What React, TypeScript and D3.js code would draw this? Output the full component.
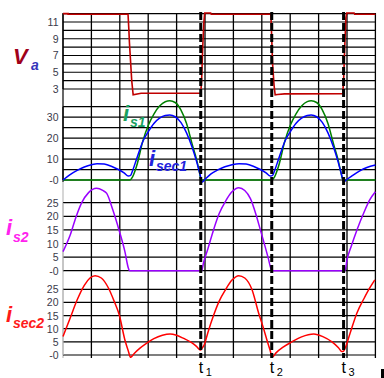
import React from "react";
import * as d3 from "d3";

type P = [number, number];

// time in grid divisions (0..11)
const vaData: P[] = [[0,12],[0.18,12],[0.18,11.92],[2.29,11.92],[2.32,10],[2.34,8.5],[2.37,6.8],[2.42,4],[2.47,2.3],[2.75,2.5],[4.85,2.5],[4.88,4],[4.92,8],[4.96,11],[4.99,12.08],[5.2,12.08],[5.22,11.92],[7.32,11.92],[7.34,10],[7.38,6],[7.43,3.5],[7.47,2.3],[7.55,2.35],[7.8,2.42],[9.85,2.45],[9.88,4],[9.92,8],[9.96,11.5],[9.99,12.08],[10.25,12.08],[10.27,11.92],[11,11.92]];

const is1Data: P[] = [[0,0],[2.35,0],[2.45,1.5],[2.6,7],[2.8,18],[3.0,26],[3.2,31.5],[3.4,35.3],[3.6,37.4],[3.76,37.8],[3.95,37],[4.15,33.5],[4.35,27],[4.55,17],[4.7,10],[4.8,4],[4.86,0],[7.35,0],[7.45,1.5],[7.6,7],[7.8,18],[8.0,26],[8.2,31.5],[8.4,35.3],[8.6,37.4],[8.74,37.8],[8.93,37],[9.13,33.5],[9.33,27],[9.53,17],[9.68,10],[9.78,4],[9.86,0],[11,0]];

const isec1Data: P[] = [[0,0],[0.25,2.6],[0.5,4.6],[0.75,6.2],[1.0,7.3],[1.2,7.8],[1.45,7.6],[1.7,6.6],[1.95,5],[2.15,3.4],[2.3,1.9],[2.38,2.2],[2.46,4.8],[2.6,10.4],[2.83,19],[3.0,23],[3.2,27],[3.4,29.5],[3.6,30.8],[3.76,31],[3.95,30.2],[4.15,27.5],[4.35,22.5],[4.55,15.5],[4.7,9],[4.82,3],[4.9,-1],[4.98,0],[5.2,2.8],[5.45,4.8],[5.7,6.3],[5.95,7.3],[6.2,7.8],[6.45,7.6],[6.7,6.6],[6.95,5],[7.15,3.4],[7.3,1.9],[7.38,2.2],[7.46,4.8],[7.6,10.4],[7.83,19],[8.0,23],[8.2,27],[8.4,29.5],[8.6,30.8],[8.74,31],[8.93,30.2],[9.13,27.5],[9.33,22.5],[9.53,15.5],[9.68,9],[9.8,3],[9.89,-1],[9.97,0],[10.2,2.2],[10.45,4.4],[10.7,6],[11,7.2]];

const is2Data: P[] = [[0,7],[0.25,13],[0.45,19.5],[0.66,25],[0.9,28.7],[1.18,30.3],[1.4,29.5],[1.54,28.4],[1.75,22.5],[1.98,14.7],[2.18,7],[2.3,1],[2.34,0],[4.88,0],[4.95,3],[5.1,8],[5.3,15],[5.5,21],[5.72,25.5],[5.95,29],[6.19,30.5],[6.4,29.5],[6.6,26.5],[6.8,20.5],[6.95,15],[7.1,9.5],[7.22,4.9],[7.36,0],[9.93,0],[10.0,4],[10.15,9],[10.35,15],[10.6,21.5],[10.8,26],[11,29]];

const isec2Data: P[] = [[0,7],[0.25,14],[0.5,21],[0.75,26.5],[0.95,29.3],[1.13,30.2],[1.35,29.3],[1.6,25.5],[1.8,20.5],[1.98,15.3],[2.18,5.7],[2.3,1.5],[2.38,-0.9],[2.5,0.5],[2.7,2.5],[2.95,4.5],[3.2,6.2],[3.5,7.5],[3.77,8],[4.0,7.5],[4.25,6.3],[4.53,4.7],[4.7,3.3],[4.84,1.9],[4.9,2.6],[4.97,3.8],[5.1,8.5],[5.3,15],[5.5,20.5],[5.72,24.8],[5.95,28.5],[6.19,30.2],[6.4,29.3],[6.65,25],[6.89,15.9],[7.05,10.5],[7.18,5.7],[7.3,1.5],[7.36,-0.9],[7.5,0.8],[7.75,3],[8.06,5],[8.4,6.9],[8.83,8],[9.15,7],[9.47,5],[9.7,2.8],[9.82,1.3],[9.88,1.5],[9.93,2.5],[10.1,8],[10.35,16],[10.6,21.5],[10.8,25.5],[10.98,28.6]];

const vaGrid = [3,4,5,6,7,8,9,10,11,12];
const vaTicks = [11,9,7,5,3];
const p2Grid = [0,5,10,15,20,25,30,35];
const p2Ticks = [30,20,10,0];
const p34Grid = [0,5,10,15,20,25];
const p34Ticks = [25,20,15,10,5,0];
const vGrid = d3.range(0, 12);
const markers = [4.85, 7.35, 9.88];
const markerLabels = ["1", "2", "3"];

const x = d3.scaleLinear().domain([0, 11]).range([63, 375.4]);
const y1 = d3.scaleLinear().domain([3, 12]).range([89, 13.6]);
const y2 = d3.scaleLinear().domain([0, 35]).range([180, 106.7]);
const y3 = d3.scaleLinear().domain([0, 25]).range([270.7, 202.7]);
const y4 = d3.scaleLinear().domain([0, 25]).range([355, 289.3]);

const mk = (ys: d3.ScaleLinear<number, number>, curve: any) =>
  d3.line<P>().x(d => x(d[0])).y(d => ys(d[1])).curve(curve);

const tickFont = "'Liberation Sans', Arial, sans-serif";

function Panel({ ys, grid, ticks, axisColor }: { ys: any; grid: number[]; ticks: number[]; axisColor: string }) {
  return (
    <g>
      {grid.map(g => (
        <line key={g} x1={x(0)} x2={x(11)} y1={ys(g)} y2={ys(g)} stroke="#000" strokeWidth={1.2} />
      ))}
      {ticks.map(t => (
        <text key={t} x={58.5} y={ys(t) + 4} textAnchor="end" fontSize={10.5} fontFamily={tickFont} fill="#3a3a4a">
          {t === 0 ? "-0" : String(t)}
        </text>
      ))}
      <line x1={x(0)} x2={x(0)} y1={ys(grid[grid.length - 1])} y2={ys(grid[0])} stroke={axisColor} strokeWidth={1.2} />
    </g>
  );
}

export default function App() {
  const lf = "'Liberation Sans', Arial, sans-serif";
  return (
    <svg width={384} height={378} style={{ position: "absolute", left: 0, top: 0, background: "#fff" }}>
      <rect x={0} y={0} width={384} height={378} fill="#fff" />
      {vGrid.slice(1).map(v => (
        <line key={v} x1={x(v)} x2={x(v)} y1={13} y2={358} stroke="#000" strokeWidth={1.3} />
      ))}
      <line x1={x(0)} x2={x(0)} y1={13} y2={182} stroke="#000" strokeWidth={1.2} />
      <line x1={x(0)} x2={x(0)} y1={182} y2={358} stroke="#bbb" strokeWidth={1.2} />
      <Panel ys={y1} grid={vaGrid} ticks={vaTicks} axisColor="#000" />
      <Panel ys={y2} grid={p2Grid} ticks={p2Ticks} axisColor="#000" />
      <Panel ys={y3} grid={p34Grid} ticks={p34Ticks} axisColor="#bbb" />
      <Panel ys={y4} grid={p34Grid} ticks={p34Ticks} axisColor="#bbb" />

      <path d={mk(y1, d3.curveLinear)(vaData) || ""} fill="none" stroke="#c00000" strokeWidth={1.6} />
      <path d={mk(y2, d3.curveMonotoneX)(is1Data) || ""} fill="none" stroke="#008000" strokeWidth={1.5} />
      <path d={mk(y2, d3.curveMonotoneX)(isec1Data) || ""} fill="none" stroke="#0000ff" strokeWidth={1.5} />
      <path d={mk(y3, d3.curveMonotoneX)(is2Data) || ""} fill="none" stroke="#9a00ff" strokeWidth={1.5} />
      <path d={mk(y4, d3.curveMonotoneX)(isec2Data) || ""} fill="none" stroke="#ff0000" strokeWidth={1.5} />

      {markers.map((m, i) => (
        <g key={i}>
          <line x1={x(m)} x2={x(m)} y1={12} y2={358} stroke="#000" strokeWidth={3} strokeDasharray="8,3" />
          <text x={x(m) - 2} y={373} fontSize={16} fontFamily={lf} fill="#000">t</text>
          <text x={x(m) + 5} y={376} fontSize={11} fontFamily={lf} fill="#000">{markerLabels[i]}</text>
        </g>
      ))}

      <g fontFamily={lf} fontWeight="bold" fontStyle="italic">
        <text x={13} y={64} fontSize={22} fill="#a0001a">V</text>
        <text x={31} y={70} fontSize={14} fill="#3535bb">a</text>
        <text x={123} y={121} fontSize={22} fill="#18a060">i</text>
        <text x={130} y={127} fontSize={14} fill="#18a060">s1</text>
        <text x={149} y={166} fontSize={22} fill="#2222dd">i</text>
        <text x={156} y={171} fontSize={14} fill="#2222dd">sec1</text>
        <text x={6} y={235} fontSize={22} fill="#ff22ee">i</text>
        <text x={13} y={242} fontSize={14} fill="#ff22ee">s2</text>
        <text x={6} y={322} fontSize={22} fill="#ff1a1a">i</text>
        <text x={13} y={328} fontSize={14} fill="#ff1a1a">sec2</text>
      </g>
      <rect x={381} y={369} width={3} height={9} fill="#000" />
    </svg>
  );
}
